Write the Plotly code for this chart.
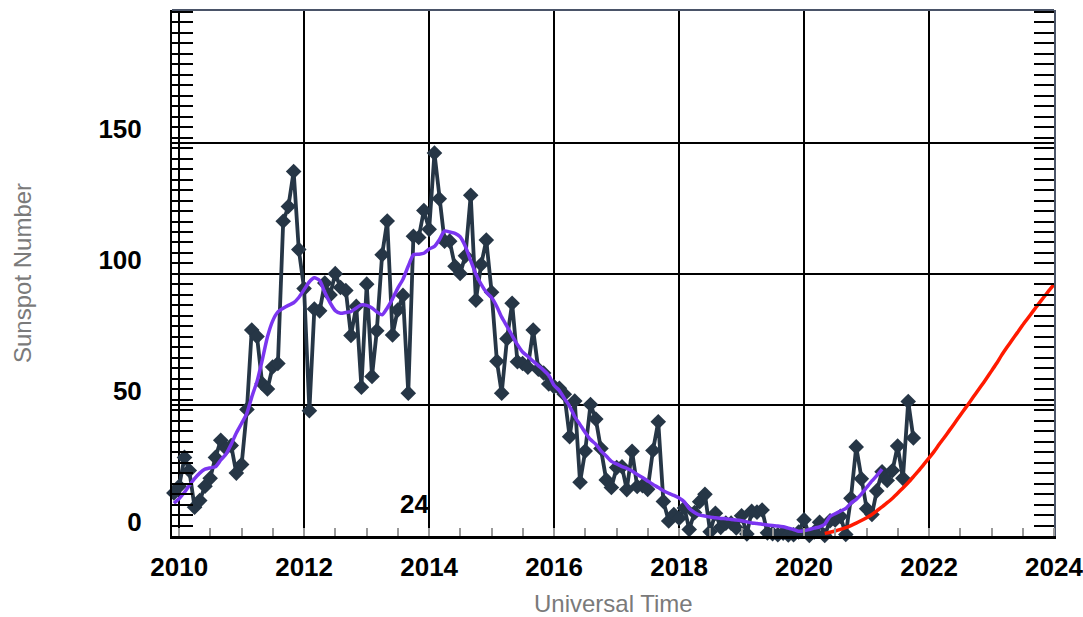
import pandas as pd
import plotly.graph_objects as go

# Monthly observed sunspot numbers, Dec 2009 .. Oct 2021
ssn_monthly = [
    16.4,
    19.0, 30.0, 25.0, 11.0, 13.5, 19.0, 22.0, 30.0, 36.5, 33.5, 34.5, 24.0,
    27.3, 48.3, 78.6, 76.1, 58.2, 56.1, 64.5, 65.8, 120.1, 125.7, 139.1, 109.3,
    94.4, 47.8, 86.6, 85.9, 96.5, 92.0, 100.1, 94.8, 93.7, 76.5, 87.6, 56.8,
    96.1, 60.9, 78.3, 107.3, 120.2, 76.7, 86.2, 91.8, 54.5, 114.4, 113.9, 124.2,
    117.0, 146.1, 128.7, 112.5, 112.5, 102.9, 100.2, 106.9, 130.0, 90.0, 103.6, 112.9,
    93.0, 66.7, 54.5, 75.3, 88.8, 66.5, 65.8, 64.4, 78.6, 63.6, 62.2, 58.0,
    57.0, 56.4, 54.1, 37.9, 51.5, 20.5, 32.4, 50.2, 44.6, 33.4, 21.4, 18.5,
    26.1, 26.4, 17.7, 32.3, 18.9, 19.2, 17.8, 32.6, 43.6, 13.2, 5.7, 8.2,
    6.8, 10.7, 2.5, 8.9, 13.1, 15.9, 1.6, 8.7, 3.3, 4.9, 4.9, 3.1,
    7.7, 0.8, 9.4, 9.1, 9.9, 1.2, 0.9, 0.5, 1.1, 0.4, 0.5, 1.5,
    6.2, 0.2, 1.5, 5.2, 0.2, 5.8, 6.1, 7.5, 0.6, 14.4, 34.0, 21.8,
    10.4, 8.2, 17.2, 24.5, 21.2, 25.0, 34.3, 22.0, 51.3, 37.4,
]

# Smoothed sunspot number, Dec 2009 .. Apr 2021
ssn_smoothed = [
    12.5,
    14.3, 16.7, 19.3, 21.9, 24.0, 25.5, 26.0, 26.4, 29.0, 31.2, 35.0, 39.3,
    43.0, 46.9, 53.0, 59.0, 67.0, 76.0, 82.0, 85.5, 86.9, 88.0, 89.0, 91.0,
    94.0, 97.0, 98.5, 97.5, 93.0, 89.0, 86.0, 85.0, 85.3, 85.6, 87.0, 88.2,
    88.0, 87.0, 85.5, 84.4, 87.0, 90.5, 94.5, 98.0, 103.0, 107.3, 107.5, 107.9,
    109.5, 110.5, 113.0, 116.4, 116.0, 115.5, 114.2, 110.5, 105.0, 100.0, 96.0, 93.0,
    91.0, 87.5, 83.5, 80.0, 76.5, 73.0, 70.2, 68.5, 66.7, 65.0, 63.3, 61.3,
    57.5, 55.5, 52.5, 49.5, 45.5, 42.5, 39.5, 36.8, 35.0, 32.5, 30.5, 28.5,
    27.5, 26.5, 25.8, 24.8, 23.5, 22.3, 21.0, 19.7, 18.5, 17.3, 16.3, 15.5,
    14.5, 13.0, 10.5, 9.0, 8.0, 7.6, 7.2, 7.0, 6.7, 6.6, 6.3, 6.1,
    5.8, 5.4, 5.0, 4.8, 4.5, 4.2, 4.0, 3.8, 3.5, 3.0, 2.5, 1.8,
    2.0, 2.5, 3.0, 3.5, 4.5, 7.5, 8.5, 9.5, 10.5, 12.5, 14.0, 16.0,
    18.5, 21.0, 23.0, 25.5,
]

# Predicted sunspot number, May 2020 .. Jan 2024
ssn_predicted = [
    1.0, 1.4, 1.9, 2.5, 3.2, 4.0, 4.9, 5.9,
    7.0, 8.2, 9.6, 11.1, 12.7, 14.4, 16.3, 18.3, 20.4, 22.6, 24.9, 27.3,
    29.8, 32.4, 35.0, 37.7, 40.4, 43.2, 46.0, 48.8, 51.6, 54.4, 57.2, 60.0,
    63.0, 66.0, 69.0, 72.0, 74.8, 77.6, 80.4, 83.1, 85.8, 88.4, 91.0, 93.5,
    96.0,
]

observed_start = "2009-12-01"
smoothed_start = "2009-12-01"
predicted_start = "2020-05-01"

x_tick_years = [2010, 2012, 2014, 2016, 2018, 2020, 2022, 2024]
y_tick_values = [0, 50, 100, 150]
cycle_label = "24"

x_obs = pd.date_range(observed_start, periods=len(ssn_monthly), freq="MS")
x_smo = pd.date_range(smoothed_start, periods=len(ssn_smoothed), freq="MS")
x_pred = pd.date_range(predicted_start, periods=len(ssn_predicted), freq="MS")

FONT = "Liberation Sans, Arial, Helvetica, sans-serif"

fig = go.Figure()
fig.add_trace(go.Scatter(
    x=x_obs, y=ssn_monthly, mode="lines+markers",
    line=dict(color="#263646", width=3.8),
    marker=dict(symbol="diamond", size=12, color="#263646"),
    hoverinfo="x+y", showlegend=False, cliponaxis=False,
))
fig.add_trace(go.Scatter(
    x=x_smo, y=ssn_smoothed, mode="lines",
    line=dict(color="#7b35f0", width=3.5, shape="spline", smoothing=0.6),
    showlegend=False,
))
fig.add_trace(go.Scatter(
    x=x_pred, y=ssn_predicted, mode="lines",
    line=dict(color="#ff1a00", width=3.5, shape="spline", smoothing=0.6),
    showlegend=False,
))
# empty trace to anchor the right-hand tick axis
fig.add_trace(go.Scatter(x=[None], y=[None], yaxis="y2", showlegend=False, hoverinfo="skip"))

x_range = ["2009-11-20", "2024-01-01"]
y_range = [0, 200.7]

fig.update_layout(
    width=1083, height=617,
    margin=dict(l=172, r=29, t=10, b=81, autoexpand=False),
    plot_bgcolor="white", paper_bgcolor="white",
    font=dict(family=FONT, color="black"),
    xaxis=dict(
        type="date", range=x_range, automargin=False,
        tickmode="array",
        tickvals=[f"{y}-01-01" for y in x_tick_years],
        ticktext=[str(y) for y in x_tick_years],
        tickfont=dict(size=26, family=FONT, color="black", weight="bold"),
        ticks="", ticklabelstandoff=6, ticklabeloverflow="allow",
        showgrid=True, gridcolor="black", gridwidth=2,
        showline=True, linecolor="black", linewidth=3,
        zeroline=False,
        minor=dict(dtick="M6", tick0="2010-01-01", ticks="inside", ticklen=8,
                   tickcolor="#9a9a9a", tickwidth=2, showgrid=False),
        title=dict(text=""),
    ),
    yaxis=dict(
        range=y_range, automargin=False,
        tickmode="array", tickvals=y_tick_values,
        ticktext=[str(v) for v in y_tick_values],
        tickfont=dict(size=26, family=FONT, color="black", weight="bold"),
        ticks="inside", ticklen=21, tickwidth=2, tickcolor="black",
        ticklabelshift=-14, ticklabelstandoff=23, ticklabeloverflow="allow",
        showgrid=True, gridcolor="black", gridwidth=2,
        showline=True, linecolor="black", linewidth=2,
        zeroline=False,
        minor=dict(dtick=4, tick0=0, ticks="inside", ticklen=21,
                   tickcolor="black", tickwidth=2, showgrid=False),
    ),
    yaxis2=dict(
        range=y_range, overlaying="y", side="right", automargin=False,
        showticklabels=False, showgrid=False, zeroline=False,
        ticks="inside", ticklen=20, tickwidth=2, tickcolor="black",
        tickmode="array", tickvals=y_tick_values,
        showline=True, linecolor="#4a5468", linewidth=2,
        minor=dict(dtick=4, tick0=0, ticks="inside", ticklen=20,
                   tickcolor="black", tickwidth=2, showgrid=False),
    ),
    shapes=[
        dict(type="line", xref="paper", yref="paper", x0=0, x1=1, y0=1, y1=1,
             line=dict(color="#4a5468", width=2), layer="above"),
    ],
    annotations=[
        dict(text="Universal Time", xref="paper", yref="paper", x=0.5, y=0,
             yshift=-67, showarrow=False, yanchor="middle",
             font=dict(size=24, family=FONT, color="#7a7a7a")),
        dict(text="Sunspot Number", xref="paper", yref="paper", x=0, y=0.5,
             xshift=-150, showarrow=False, textangle=-90, xanchor="center",
             font=dict(size=24, family=FONT, color="#7a7a7a")),
        dict(text=cycle_label, x="2013-10-05", y=12.2, xref="x", yref="y",
             showarrow=False, font=dict(size=26, family=FONT, color="black", weight="bold")),
    ],
)

fig.write_html(
    "out.html",
    config={"displayModeBar": False},
    post_script="document.body.style.margin='0';document.body.style.overflow='hidden';",
)
